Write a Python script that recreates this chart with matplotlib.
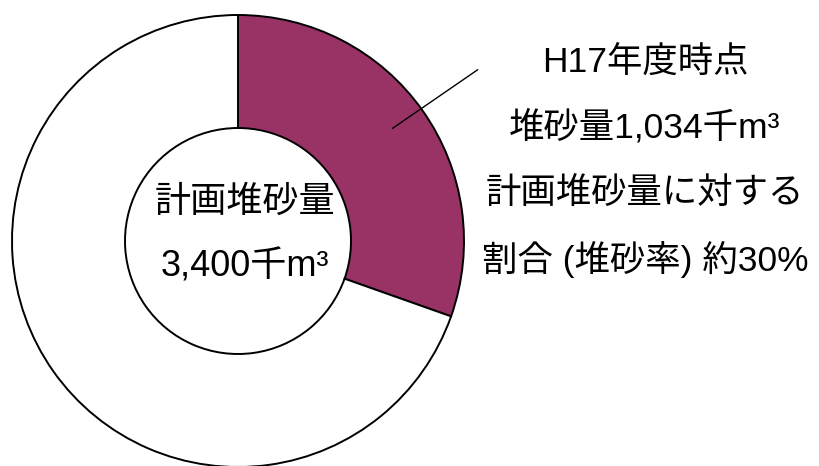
import matplotlib.pyplot as plt

plt.rcParams['font.family'] = ['Liberation Sans', 'Noto Sans CJK JP']

# 計画堆砂量と H17年度時点の堆砂量 (千m3)
planned = 3400
deposited = 1034
values = [deposited, planned - deposited]
colors = ['#993366', 'white']

rate = round(deposited / planned * 100)
center_lines = ['計画堆砂量', f'{planned:,}千m³']
note_lines = ['H17年度時点', f'堆砂量{deposited:,}千m³',
              '計画堆砂量に対する', f'割合 (堆砂率) 約{rate}%']

fig = plt.figure(figsize=(8.2, 4.66), dpi=100)
ax = fig.add_axes([12 / 820, -1 / 466, 452 / 820, 452 / 466])

ax.pie(values, colors=colors, startangle=90, counterclock=False, radius=1,
       wedgeprops=dict(width=0.5, edgecolor='black', linewidth=1.4))
ax.set_xlim(-1, 1)
ax.set_ylim(-1, 1)
ax.set_aspect('equal')
ax.axis('off')

# leader line from the deposited wedge to the note
ax.annotate('', xy=(0.673, 0.491), xytext=(1.071, 0.765),
            arrowprops=dict(arrowstyle='-', lw=1.0, color='black'),
            annotation_clip=False)

for i, line in enumerate(center_lines):
    ax.text(0.03, 0.17 - i * 0.285, line, ha='center', va='center', fontsize=26)

for i, line in enumerate(note_lines):
    fig.text(645 / 820, 1 - (63 + i * 65.5) / 466, line,
             ha='center', va='center', fontsize=25.5)

fig.savefig('out.png', dpi=100)
